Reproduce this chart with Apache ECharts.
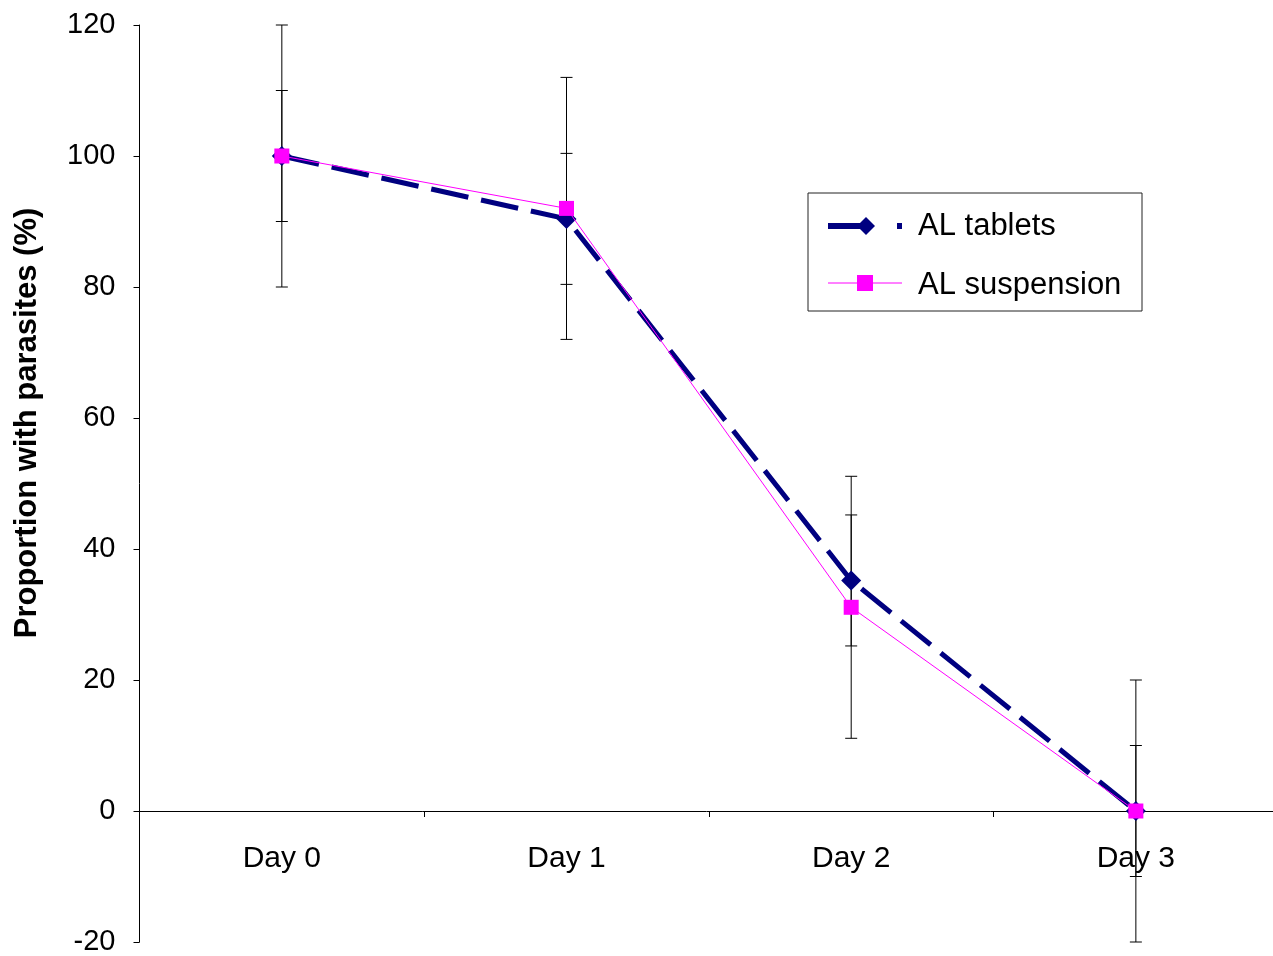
<!DOCTYPE html>
<html>
<head>
<meta charset="utf-8">
<script src="https://cdn.jsdelivr.net/npm/echarts@6/dist/echarts.min.js"></script>
<style>
  html, body { margin: 0; padding: 0; background: #fff; }
  #chart { width: 1273px; height: 956px; }
</style>
</head>
<body>
<div id="chart"></div>
<script>
// data
var days = ['Day 0', 'Day 1', 'Day 2', 'Day 3'];
var tablets = [100, 90.4, 35.2, 0];
var tabletsErr = [10, 10, 10, 10];
var suspension = [100, 92, 31.1, 0];
var suspensionErr = [20, 20, 20, 20];
var yMin = -20, yMax = 120, yStep = 20;

var font = 'Liberation Sans, Arial, Helvetica, sans-serif';
var navy = '#000080';
var pink = '#ff00ff';

// error bar rows: [category index, low, high]
function errRows(vals, errs) {
    var rows = [];
    vals.forEach(function (v, i) {
        rows.push([i, v - errs[i], v + errs[i]]);
    });
    return rows;
}

function renderErr(params, api) {
    var x = api.value(0);
    var lo = api.coord([x, api.value(1)]);
    var hi = api.coord([x, api.value(2)]);
    var cap = 6;
    var st = { stroke: '#000', lineWidth: 1 };
    return {
        type: 'group',
        children: [
            { type: 'line', shape: { x1: lo[0], y1: lo[1], x2: hi[0], y2: hi[1] }, style: st },
            { type: 'line', shape: { x1: lo[0] - cap, y1: lo[1], x2: lo[0] + cap, y2: lo[1] }, style: st },
            { type: 'line', shape: { x1: hi[0] - cap, y1: hi[1], x2: hi[0] + cap, y2: hi[1] }, style: st }
        ]
    };
}

// grid box, x axis sits on the zero line
var gTop = 25, gBottom = 942, gLeft = 139.5, gWidth = 1138.7;
var zeroY = gTop + (gBottom - gTop) * (yMax - 0) / (yMax - yMin);

var chart = echarts.init(document.getElementById('chart'));

// hand drawn legend box (the built-in one caps icon sizes)
var legendGraphic = {
    type: 'group',
    x: 808, y: 193,
    children: [
        { type: 'rect', shape: { x: 0, y: 0, width: 334, height: 118 },
          style: { fill: '#fff', stroke: '#222', lineWidth: 1 } },
        { type: 'line', shape: { x1: 20, y1: 33, x2: 94, y2: 33 },
          style: { stroke: navy, lineWidth: 6, lineDash: [44, 25] } },
        { type: 'polygon', shape: { points: [[49, 33], [58, 24], [67, 33], [58, 42]] },
          style: { fill: navy } },
        { type: 'text', x: 110, y: 33,
          style: { text: 'AL tablets', font: '31px ' + font, fill: '#000', verticalAlign: 'middle' } },
        { type: 'line', shape: { x1: 20, y1: 90, x2: 94, y2: 90 },
          style: { stroke: pink, lineWidth: 1 } },
        { type: 'rect', shape: { x: 49, y: 82, width: 16, height: 16 },
          style: { fill: pink } },
        { type: 'text', x: 110, y: 92,
          style: { text: 'AL suspension', font: '31px ' + font, fill: '#000', verticalAlign: 'middle' } }
    ]
};

var option = {
    backgroundColor: '#fff',
    animation: false,
    grid: { left: gLeft, top: gTop, height: gBottom - gTop, width: gWidth, outerBoundsMode: 'none', containLabel: false },
    graphic: [
        {
            type: 'text',
            x: 27,
            y: 423,
            rotation: Math.PI / 2,
            style: {
                text: 'Proportion with parasites (%)',
                font: 'bold 31px ' + font,
                fill: '#000',
                align: 'center',
                verticalAlign: 'middle'
            }
        },
        legendGraphic
    ],
    xAxis: {
        type: 'category',
        data: days,
        boundaryGap: true,
        offset: -(gBottom - zeroY),
        axisLine: { onZero: false, lineStyle: { color: '#000', width: 1 } },
        axisTick: { show: true, length: 6, inside: false, lineStyle: { color: '#000' } },
        axisLabel: { margin: 33, fontFamily: font, fontSize: 30, color: '#000' },
        splitLine: { show: false }
    },
    yAxis: {
        type: 'value',
        min: yMin,
        max: yMax,
        interval: yStep,
        axisLine: { show: true, lineStyle: { color: '#000', width: 1 } },
        axisTick: { show: true, length: 6, inside: false, lineStyle: { color: '#000' } },
        axisLabel: { margin: 24, fontFamily: font, fontSize: 29, color: '#000' },
        splitLine: { show: false }
    },
    series: [
        {
            name: 'tabletsErr',
            type: 'custom',
            renderItem: renderErr,
            data: errRows(tablets, tabletsErr),
            z: 1,
            silent: true
        },
        {
            name: 'suspensionErr',
            type: 'custom',
            renderItem: renderErr,
            data: errRows(suspension, suspensionErr),
            z: 1,
            silent: true
        },
        {
            name: 'AL tablets',
            type: 'line',
            data: tablets,
            symbol: 'diamond',
            symbolSize: 20,
            showAllSymbol: true,
            itemStyle: { color: navy },
            lineStyle: { color: navy, width: 5, type: [38, 13] },
            z: 2
        },
        {
            name: 'AL suspension',
            type: 'line',
            data: suspension,
            symbol: 'rect',
            symbolSize: 15,
            showAllSymbol: true,
            itemStyle: { color: pink },
            lineStyle: { color: pink, width: 1 },
            z: 3
        }
    ]
};

chart.setOption(option);
</script>
</body>
</html>
